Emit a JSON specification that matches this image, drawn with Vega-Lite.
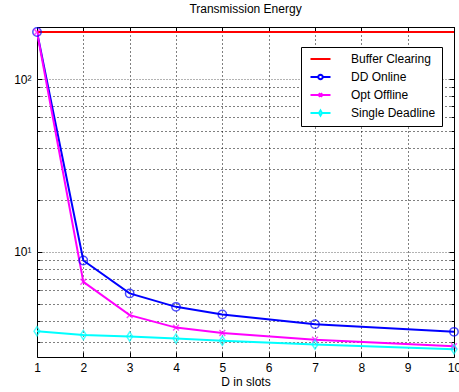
{
  "$schema": "https://vega.github.io/schema/vega-lite/v6.json",
  "autosize": {"type": "none"},
  "padding": {"left": 37, "top": 27, "right": 5, "bottom": 35},
  "width": 417,
  "height": 330,
  "background": "white",
  "config": {
    "font": "Liberation Sans",
    "view": {"stroke": "black", "strokeWidth": 1},
    "axis": {"labelFont": "Liberation Sans", "titleFont": "Liberation Sans", "labelColor": "black", "titleColor": "black", "tickColor": "black", "domain": false}
  },
  "title": {"text": "Transmission Energy", "fontSize": 12, "fontWeight": "normal", "font": "Liberation Sans", "offset": 9, "color": "black"},
  "data": {"values": [
    {"x": 1, "y": 187, "s": "Buffer Clearing"},
    {"x": 10, "y": 187, "s": "Buffer Clearing"},
    {"x": 1, "y": 187, "s": "DD Online"},
    {"x": 2, "y": 8.9, "s": "DD Online"},
    {"x": 3, "y": 5.74, "s": "DD Online"},
    {"x": 4, "y": 4.8, "s": "DD Online"},
    {"x": 5, "y": 4.34, "s": "DD Online"},
    {"x": 7, "y": 3.81, "s": "DD Online"},
    {"x": 10, "y": 3.44, "s": "DD Online"},
    {"x": 1, "y": 187, "s": "Opt Offline"},
    {"x": 2, "y": 6.7, "s": "Opt Offline"},
    {"x": 3, "y": 4.3, "s": "Opt Offline"},
    {"x": 4, "y": 3.64, "s": "Opt Offline"},
    {"x": 5, "y": 3.39, "s": "Opt Offline"},
    {"x": 7, "y": 3.1, "s": "Opt Offline"},
    {"x": 10, "y": 2.84, "s": "Opt Offline"},
    {"x": 1, "y": 3.47, "s": "Single Deadline"},
    {"x": 2, "y": 3.3, "s": "Single Deadline"},
    {"x": 3, "y": 3.23, "s": "Single Deadline"},
    {"x": 4, "y": 3.15, "s": "Single Deadline"},
    {"x": 5, "y": 3.05, "s": "Single Deadline"},
    {"x": 7, "y": 2.91, "s": "Single Deadline"},
    {"x": 10, "y": 2.73, "s": "Single Deadline"}
  ]},
  "resolve": {"axis": {"x": "independent", "y": "independent"}},
  "layer": [
    {
      "mark": {"type": "line", "strokeWidth": 2, "clip": true},
      "encoding": {
        "x": {"field": "x", "type": "quantitative",
          "scale": {"domain": [1, 10], "nice": false, "zero": false},
          "axis": {"values": [1,2,3,4,5,6,7,8,9,10], "title": "D in slots", "titleFontSize": 12, "titleFontWeight": "normal", "titlePadding": 3, "labelFontSize": 12, "labelPadding": 10, "tickSize": -5, "gridDash": [1, 3], "gridColor": "black", "gridOpacity": 1, "labelFlush": false}},
        "y": {"field": "y", "type": "quantitative",
          "scale": {"type": "log", "domain": [2.46, 200], "nice": false},
          "axis": {"values": [3,4,5,6,7,8,9,10,20,30,40,50,60,70,80,90,100,200], "title": null, "labelFontSize": 12, "labelPadding": 11,
            "labelExpr": "datum.value == 10 ? '10¹' : datum.value == 100 ? '10²' : ''",
            "tickSize": {"condition": {"test": "datum.value == 10 || datum.value == 100", "value": -5}, "value": -3},
            "gridDash": {"condition": {"test": "datum.value == 10 || datum.value == 100", "value": [1, 2]}, "value": [1, 3]},
            "gridColor": {"condition": {"test": "datum.value == 10 || datum.value == 100", "value": "#666666"}, "value": "black"},
            "gridOpacity": 1}},
        "color": {"field": "s", "type": "nominal",
          "scale": {"domain": ["Buffer Clearing", "DD Online", "Opt Offline", "Single Deadline"], "range": ["#ff0000", "#0000ff", "#ff00ff", "#00ffff"]},
          "legend": {"title": null, "orient": "none", "legendX": 264, "legendY": 20, "labelFontSize": 12, "labelFont": "Liberation Sans", "labelColor": "black", "strokeColor": "black", "fillColor": "white", "padding": 6, "symbolSize": 100, "symbolStrokeWidth": 2, "symbolFillColor": "transparent", "labelOffset": 32, "rowPadding": 5, "labelLimit": 200,
            "encode": {"symbols": {"update": {"fill": {"value": "transparent"}, "shape": {"signal": "datum.value === 'Buffer Clearing' ? 'M-0.5,0H3.5' : datum.value === 'DD Online' ? 'M-0.5,0H1.05M1.95,0H3.5M1.95,0L1.916,0.172L1.818,0.318L1.672,0.416L1.5,0.45L1.328,0.416L1.182,0.318L1.084,0.172L1.05,0L1.084,-0.172L1.182,-0.318L1.328,-0.416L1.5,-0.45L1.672,-0.416L1.818,-0.318L1.916,-0.172Z' : datum.value === 'Opt Offline' ? 'M-0.5,0H3.5M1.15,-0.35L1.85,0.35M1.15,0.35L1.85,-0.35' : 'M-0.5,0H1.2M1.8,0H3.5M1.5,-0.5L1.8,0L1.5,0.5L1.2,0Z'"}}}}}
        }
      }
    },
    {
      "transform": [{"filter": "datum.s !== 'Buffer Clearing'"}],
      "mark": {"type": "point", "filled": false, "strokeWidth": 1.5, "size": 70, "clip": false},
      "encoding": {
        "x": {"field": "x", "type": "quantitative", "axis": null},
        "y": {"field": "y", "type": "quantitative", "axis": null},
        "color": {"field": "s", "type": "nominal"},
        "shape": {"field": "s", "type": "nominal",
          "scale": {"domain": ["DD Online", "Opt Offline", "Single Deadline"], "range": ["circle", "M-0.7,-0.7L0.7,0.7M-0.7,0.7L0.7,-0.7", "M0,-1.1L0.7,0L0,1.1L-0.7,0Z"]},
          "legend": null}
      }
    },
    {
      "mark": {"type": "point", "opacity": 0},
      "encoding": {
        "x": {"field": "x", "type": "quantitative",
          "axis": {"orient": "top", "values": [1,2,3,4,5,6,7,8,9,10], "labels": false, "title": null, "grid": false, "tickSize": -5}},
        "y": {"field": "y", "type": "quantitative",
          "axis": {"orient": "right", "values": [3,4,5,6,7,8,9,10,20,30,40,50,60,70,80,90,100,200], "labels": false, "title": null, "grid": false,
            "tickSize": {"condition": {"test": "datum.value == 10 || datum.value == 100", "value": -5}, "value": -3}}}
      }
    }
  ]
}
